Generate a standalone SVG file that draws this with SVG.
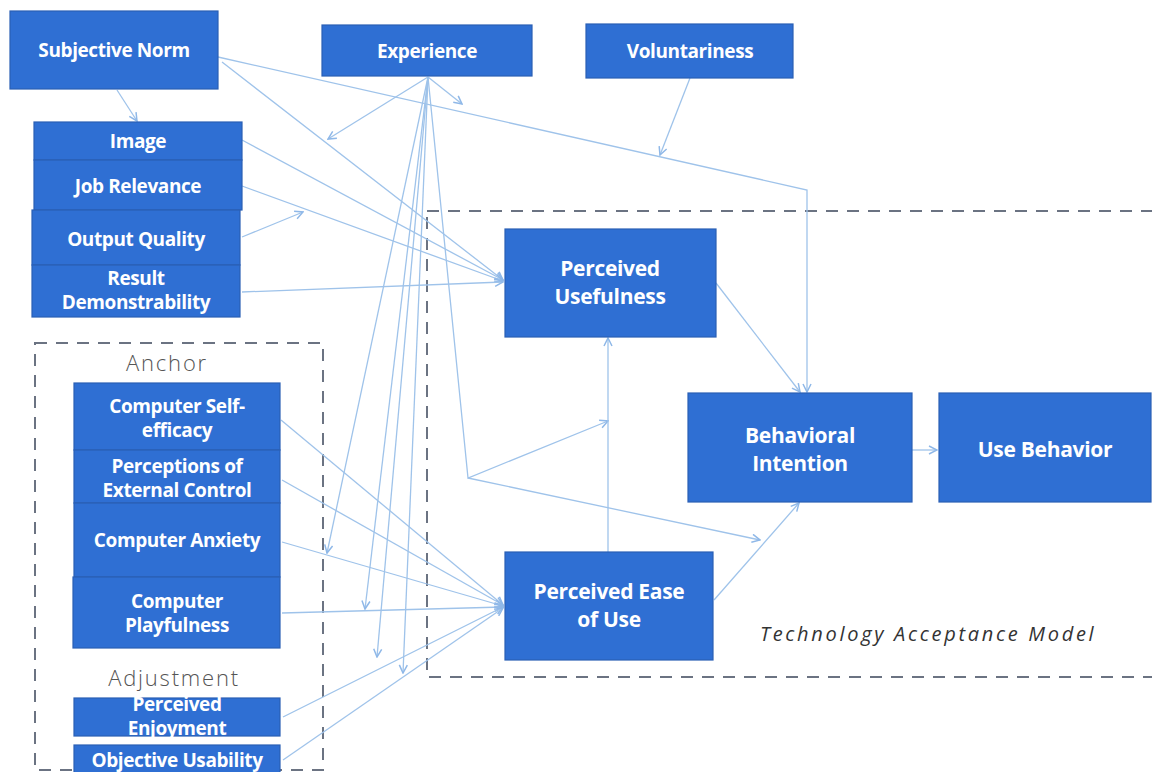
<svg xmlns="http://www.w3.org/2000/svg" width="1152" height="772" viewBox="0 0 1152 772">
<style>
.node rect{fill:#2f6fd3;stroke:#2a5fb5;stroke-width:1.2}
.node text{fill:#ffffff;font-family:"Open Sans","Liberation Sans",sans-serif;font-weight:bold;text-anchor:middle}
.s text{font-size:19px;letter-spacing:-0.4px}
.b text{font-size:21px;letter-spacing:-0.3px}
.frame{fill:none;stroke:#6b7382;stroke-width:2;stroke-dasharray:12 9}
.lbl{font-family:"Open Sans","Liberation Sans",sans-serif;font-size:22px;font-weight:300;fill:#555;text-anchor:middle;letter-spacing:1.8px}
.tam{font-family:"Open Sans","Liberation Sans",sans-serif;font-size:20px;font-style:italic;fill:#333;letter-spacing:2.7px}
#connectors path{fill:none;stroke:#9fc3ea;stroke-width:1.3;marker-end:url(#ah)}
</style>
<defs>
<marker id="ah" viewBox="0 0 10 10" refX="9" refY="5" markerWidth="10" markerHeight="10" markerUnits="userSpaceOnUse" orient="auto">
<path d="M1,1 L9,5 L1,9" fill="none" stroke="#8fb8e8" stroke-width="1.5"/>
</marker>
</defs>
<rect width="1152" height="772" fill="#ffffff"/>
<g id="frames">
<rect class="frame" x="427" y="211" width="740" height="466"/>
<rect class="frame" x="35" y="343" width="288" height="427"/>
<text class="lbl" x="167" y="371">Anchor</text>
<text class="lbl" x="174" y="686">Adjustment</text>
<text class="tam" x="760" y="641">Technology Acceptance Model</text>
</g>
<g id="connectors">
<path d="M117,90 L137,121"/>
<path d="M218,57 L807,190 L807,392"/>
<path d="M222,62 L503,280"/>
<path d="M242,140 L503,280"/>
<path d="M242,186 L503,281"/>
<path d="M242,237 L303,212"/>
<path d="M242,292 L503,282"/>
<path d="M428,77 L462,104"/>
<path d="M428,77 L328,139"/>
<path d="M428,77 L327,553"/>
<path d="M428,77 L365,609"/>
<path d="M428,77 L377,657"/>
<path d="M428,77 L403,673"/>
<path d="M428,77 L468,478 L608,421"/>
<path d="M468,478 L760,540"/>
<path d="M690,78 L660,155"/>
<path d="M281,420 L503,605"/>
<path d="M282,480 L503,605"/>
<path d="M282,542 L503,606"/>
<path d="M282,613 L503,607"/>
<path d="M283,717 L503,607"/>
<path d="M283,760 L503,608"/>
<path d="M608,552 L608,338"/>
<path d="M714,600 L799,503"/>
<path d="M716,283 L800,392"/>
<path d="M912,450 L937,450"/>
</g>
<g id="subjective-norm" class="node s"><rect x="10" y="11" width="208" height="78"/><text x="114" y="57">Subjective Norm</text></g>
<g id="experience" class="node s"><rect x="322" y="25" width="210" height="51"/><text x="427" y="58">Experience</text></g>
<g id="voluntariness" class="node s"><rect x="586" y="24" width="207" height="54"/><text x="690" y="58">Voluntariness</text></g>
<g id="image" class="node s"><rect x="34" y="122" width="208" height="38"/><text x="138" y="148">Image</text></g>
<g id="job-relevance" class="node s"><rect x="34" y="160" width="208" height="50"/><text x="138" y="193">Job Relevance</text></g>
<g id="output-quality" class="node s"><rect x="32" y="210" width="208" height="55"/><text x="136" y="246">Output Quality</text></g>
<g id="result-demonstrability" class="node s"><rect x="32" y="265" width="208" height="52"/><text x="136" y="285">Result</text><text x="136" y="309">Demonstrability</text></g>
<g id="computer-self-efficacy" class="node s"><rect x="74" y="383" width="206" height="67"/><text x="177" y="413">Computer Self-</text><text x="177" y="437">efficacy</text></g>
<g id="perceptions-external-control" class="node s"><rect x="74" y="450" width="206" height="53"/><text x="177" y="473">Perceptions of</text><text x="177" y="497">External Control</text></g>
<g id="computer-anxiety" class="node s"><rect x="74" y="503" width="206" height="74"/><text x="177" y="547">Computer Anxiety</text></g>
<g id="computer-playfulness" class="node s"><rect x="73" y="577" width="207" height="71"/><text x="177" y="608">Computer</text><text x="177" y="632">Playfulness</text></g>
<g id="perceived-enjoyment" class="node s"><rect x="74" y="698" width="206" height="38"/><text x="177" y="711">Perceived</text><text x="177" y="735">Enjoyment</text></g>
<g id="objective-usability" class="node s"><rect x="74" y="745" width="206" height="32"/><text x="177" y="767">Objective Usability</text></g>
<g id="perceived-usefulness" class="node b"><rect x="505" y="229" width="211" height="108"/><text x="610" y="276">Perceived</text><text x="610" y="304">Usefulness</text></g>
<g id="behavioral-intention" class="node b"><rect x="688" y="393" width="224" height="109"/><text x="800" y="443">Behavioral</text><text x="800" y="471">Intention</text></g>
<g id="use-behavior" class="node b"><rect x="939" y="393" width="212" height="109"/><text x="1045" y="457">Use Behavior</text></g>
<g id="perceived-ease-of-use" class="node b"><rect x="505" y="552" width="208" height="108"/><text x="609" y="599">Perceived Ease</text><text x="609" y="627">of Use</text></g>
</svg>
